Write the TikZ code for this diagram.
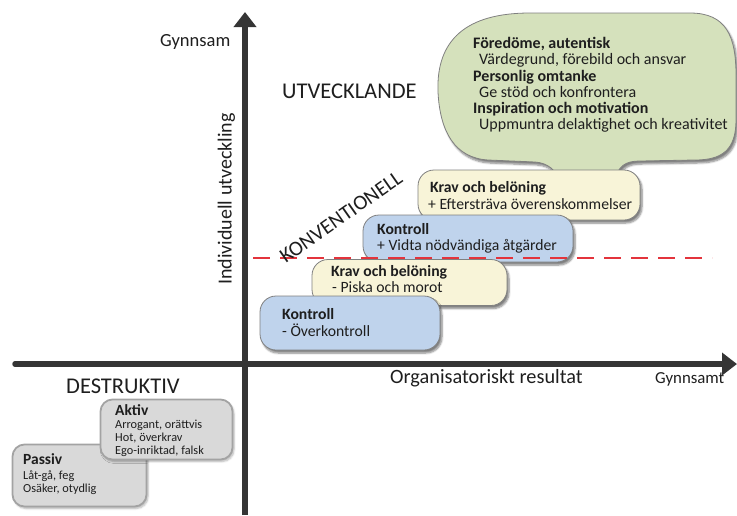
\documentclass[tikz,border=0pt]{standalone}
\usepackage{fontspec}
\setmainfont{Carlito}
\usetikzlibrary{arrows.meta,shadows.blur}
\definecolor{bubblegreen}{HTML}{D5E1BC}
\definecolor{boxblue}{HTML}{BFD3EC}
\definecolor{boxcream}{HTML}{F8F4D8}
\definecolor{boxgray}{HTML}{D9D9D9}
\definecolor{graybord}{HTML}{A3A3A3}
\definecolor{axisgray}{HTML}{353535}
\definecolor{dashred}{HTML}{E3343C}
\definecolor{inktext}{HTML}{1E1E1E}
\tikzset{
  blob/.style={draw=black!50, line width=0.8pt, rounded corners=16pt,
    blur shadow={shadow xshift=2pt, shadow yshift=-3pt, shadow blur steps=6, shadow opacity=50}},
  graybox/.style={draw=graybord, line width=1.8pt, fill=boxgray, rounded corners=12pt,
    blur shadow={shadow xshift=1.5pt, shadow yshift=-2pt, shadow blur steps=5, shadow opacity=30}},
  axis/.style={draw=axisgray, line width=5.5pt, -{Triangle[width=22pt,length=15pt]}},
  txt/.style={anchor=base west, inner sep=0pt, text=inktext},
  headline/.style={txt, font=\fontsize{15.7}{17}\selectfont\bfseries},
  bodyline/.style={txt, font=\fontsize{15.7}{17}\selectfont},
  bubblehead/.style={txt, font=\fontsize{16}{17}\selectfont\bfseries},
  bubbleline/.style={txt, font=\fontsize{16}{17}\selectfont},
  smallhead/.style={txt, font=\fontsize{15.5}{17}\selectfont\bfseries},
  smallline/.style={txt, font=\fontsize{12.3}{14}\selectfont},
  bigcaps/.style={inner sep=0pt, text=inktext, font=\fontsize{22.5}{26}\selectfont}
}
\begin{document}
\begin{tikzpicture}[x=1pt,y=-1pt]
\useasboundingbox (0,0) rectangle (737,515);

% speech bubble with its tail running down behind the upper cream box
\path[blob, fill=bubblegreen, rounded corners=0pt]
  (438,92) .. controls (436,40) and (466,13) .. (530,13)
  -- (690,13) .. controls (726,13) and (736,36) .. (736,75)
  -- (736,120) .. controls (736,150) and (722,160) .. (695,160)
  -- (640,161) .. controls (625,161) and (618,166) .. (614,182)
  -- (560,182) .. controls (556,170) and (548,163) .. (535,162)
  -- (488,160) .. controls (455,158) and (440,132) .. (438,92) -- cycle;

% staircase of leadership styles
\node[blob, fill=boxcream, minimum width=222pt, minimum height=50pt, inner sep=0pt] (krav2) at (529,195) {};
\node[blob, fill=boxblue, minimum width=210pt, minimum height=47pt, inner sep=0pt] (kontroll2) at (468,238.5) {};
\node[blob, fill=boxcream, minimum width=195pt, minimum height=46pt, inner sep=0pt] (krav1) at (409.5,282.5) {};
\node[blob, fill=boxblue, minimum width=180pt, minimum height=54pt, inner sep=0pt] (kontroll1) at (350,323) {};

% destructive styles
\node[graybox, minimum width=134pt, minimum height=62pt, inner sep=0pt] (passiv) at (79.5,475.5) {};
\node[graybox, minimum width=132pt, minimum height=60pt, inner sep=0pt] (aktiv) at (166.5,429.5) {};

% axes
\draw[axis, line cap=round] (15,364) coordinate (xstart) -- (737,364) coordinate (xend);
\draw[axis] (245,515) coordinate (ystart) -- (245,12) coordinate (yend);

% boundary between conventional and developing leadership
\draw[dashred, line width=2.7pt, dash pattern=on 17pt off 10pt] (253,258) coordinate (dstart) -- (712,258) coordinate (dend);

% bubble text
\node[bubblehead] (t1) at (473,48) {Föredöme, autentisk};
\node[bubbleline] (t2) at (479,64) {Värdegrund, förebild och ansvar};
\node[bubblehead] (t3) at (473,81.5) {Personlig omtanke};
\node[bubbleline] (t4) at (479,97.5) {Ge stöd och konfrontera};
\node[bubblehead] (t5) at (473,113.5) {Inspiration och motivation};
\node[bubbleline] (t6) at (479,129.5) {Uppmuntra delaktighet och kreativitet};

% box texts
\node[headline] (k2a) at (430,192.7) {Krav och belöning};
\node[bodyline] (k2b) at (428,209) {+ Eftersträva överenskommelser};
\node[headline] (c2a) at (377,234) {Kontroll};
\node[bodyline] (c2b) at (377,250) {+ Vidta nödvändiga åtgärder};
\node[headline] (k1a) at (331,276) {Krav och belöning};
\node[bodyline] (k1b) at (332,292.7) {- Piska och morot};
\node[headline] (c1a) at (282,319) {Kontroll};
\node[bodyline] (c1b) at (282,336.5) {- Överkontroll};

\node[smallhead] (aa) at (115,415) {Aktiv};
\node[smallline] (ab) at (115,428) {Arrogant, orättvis};
\node[smallline] (ac) at (115,441) {Hot, överkrav};
\node[smallline] (ad) at (115,454) {Ego-inriktad, falsk};
\node[smallhead] (pa) at (23,464) {Passiv};
\node[smallline] (pb) at (23,479) {Låt-gå, feg};
\node[smallline] (pc) at (23,492) {Osäker, otydlig};

% region and axis labels
\node[bigcaps, anchor=base west] (utv) at (282,98) {UTVECKLANDE};
\node[bigcaps, anchor=base west] (des) at (66,393) {DESTRUKTIV};
\node[bigcaps, rotate=35, font=\fontsize{21}{24}\selectfont] (konv) at (341,217) {KONVENTIONELL};
\node[inner sep=0pt, text=inktext, font=\fontsize{20.3}{23}\selectfont, anchor=base west] (org) at (390,383) {Organisatoriskt resultat};
\node[inner sep=0pt, text=inktext, font=\fontsize{16.8}{19}\selectfont, anchor=base west] (gx) at (655,383) {Gynnsamt};
\node[inner sep=0pt, text=inktext, font=\fontsize{18.5}{21}\selectfont, anchor=base west] (gy) at (160,46) {Gynnsam};
\node[inner sep=0pt, text=inktext, font=\fontsize{20}{22}\selectfont, rotate=90, anchor=base] (iu) at (231.5,199) {Individuell utveckling};
\end{tikzpicture}
\end{document}
